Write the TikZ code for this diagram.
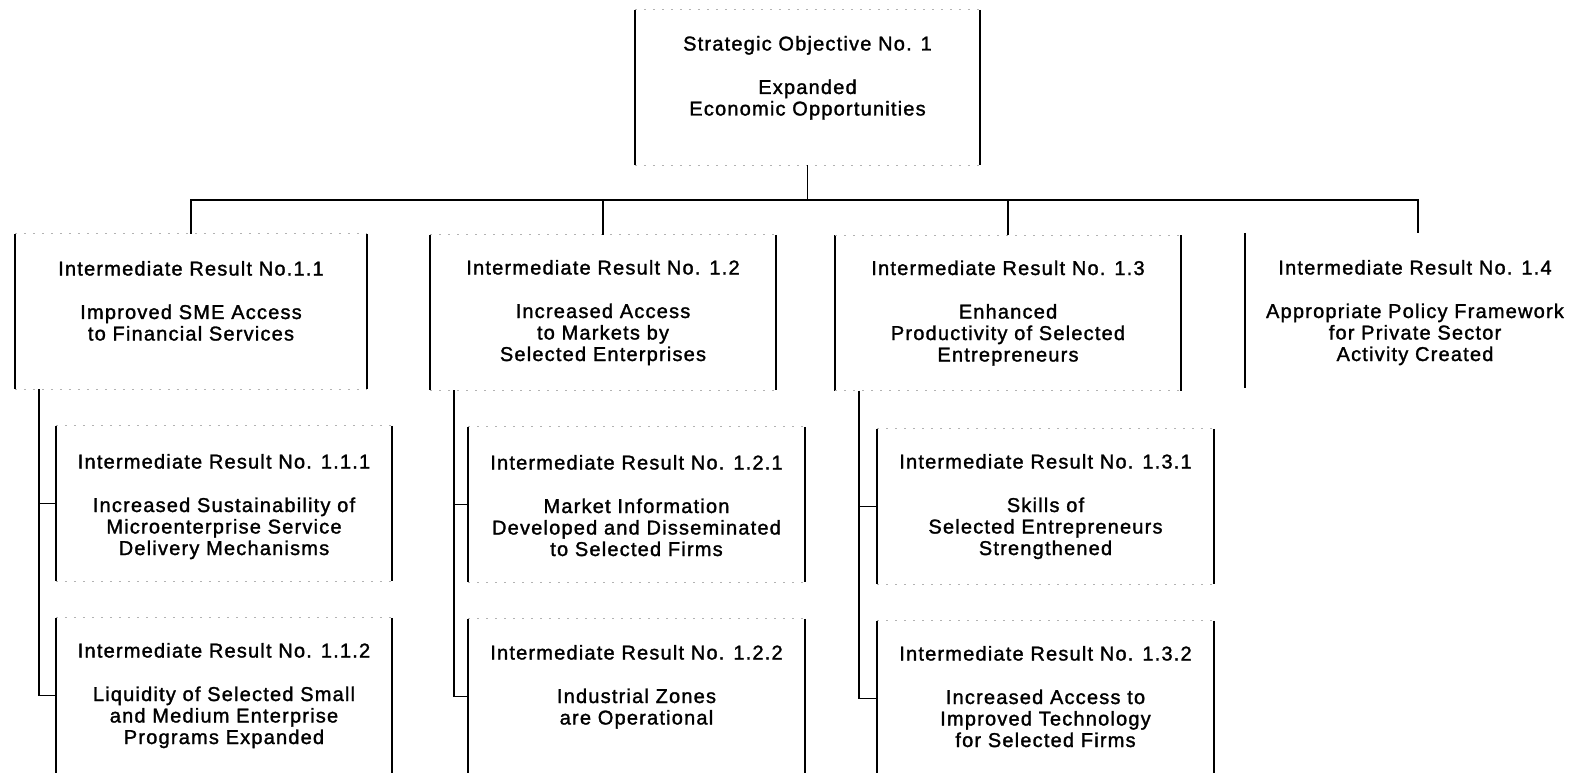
\documentclass[tikz,border=0pt]{standalone}
\usepackage{fontspec}
\setmainfont{Liberation Sans}[LetterSpace=6, FakeBold=1.5]
\usetikzlibrary{positioning}
\tikzset{
 irbox/.style={minimum width=345pt, minimum height=155pt, inner sep=0pt},
 subbox/.style={minimum width=336pt, minimum height=155pt, inner sep=0pt},
 irtext/.style={align=center, inner sep=0pt, font=\fontsize{20}{21.5}\selectfont},
 side/.style={line width=2pt},
 rim/.style={line width=1.2pt, dash pattern=on 2pt off 7pt, black!30},
 link/.style={line width=1.8pt}
}

\begin{document}
\begin{tikzpicture}[x=1pt, y=-1pt]
 \path[use as bounding box, clip] (0,0) rectangle (1579,772);
 \node[irbox] (so) at (807.5, 87.5) {};
 \node[irbox, minimum width=352pt] (ir11) at (191, 311.5) {};
 \node[irbox] (ir12) at (603, 312.5) {};
 \node[irbox] (ir13) at (1008, 313) {};
 \node[irbox] (ir14) at (1418, 310.5) {};
 \node[subbox] (ir111) at (224, 503.5) {};
 \node[subbox] (ir112) at (224, 695.5) {};
 \node[subbox] (ir121) at (636.5, 504.5) {};
 \node[subbox] (ir122) at (636.5, 696.5) {};
 \node[subbox] (ir131) at (1045.5, 506.5) {};
 \node[subbox] (ir132) at (1045.5, 698.5) {};

 \node[irtext, below=26pt of so.north] (sot) {Strategic Objective No. 1\\[22pt]Expanded\\Economic Opportunities};
 \node[irtext, below=27pt of ir11.north] (ir11t) {Intermediate Result No.1.1\\[22pt]Improved SME Access\\to Financial Services};
 \node[irtext, below=25pt of ir12.north] (ir12t) {Intermediate Result No. 1.2\\[22pt]Increased Access\\to Markets by\\Selected Enterprises};
 \node[irtext, below=25pt of ir13.north] (ir13t) {Intermediate Result No. 1.3\\[22pt]Enhanced\\Productivity of Selected\\Entrepreneurs};
 \node[irtext, below=27pt of ir14.north, xshift=-3pt] (ir14t) {Intermediate Result No. 1.4\\[22pt]Appropriate Policy Framework\\for Private Sector\\Activity Created};
 \node[irtext, below=28pt of ir111.north] (ir111t) {Intermediate Result No. 1.1.1\\[22pt]Increased Sustainability of\\Microenterprise Service\\Delivery Mechanisms};
 \node[irtext, below=25pt of ir112.north] (ir112t) {Intermediate Result No. 1.1.2\\[22pt]Liquidity of Selected Small\\and Medium Enterprise\\Programs Expanded};
 \node[irtext, below=28pt of ir121.north] (ir121t) {Intermediate Result No. 1.2.1\\[22pt]Market Information\\Developed and Disseminated\\to Selected Firms};
 \node[irtext, below=26pt of ir122.north] (ir122t) {Intermediate Result No. 1.2.2\\[22pt]Industrial Zones\\are Operational};
 \node[irtext, below=25pt of ir131.north] (ir131t) {Intermediate Result No. 1.3.1\\[22pt]Skills of\\Selected Entrepreneurs\\Strengthened};
 \node[irtext, below=25pt of ir132.north] (ir132t) {Intermediate Result No. 1.3.2\\[22pt]Increased Access to\\Improved Technology\\for Selected Firms};

 \foreach \n in {so,ir11,ir12,ir13,ir14,ir111,ir112,ir121,ir122,ir131,ir132}
  \draw[side] (\n.north west) -- (\n.south west) (\n.north east) -- (\n.south east);
 \foreach \n in {so,ir11,ir12,ir13,ir111,ir112,ir121,ir122,ir131,ir132}
  \draw[rim] (\n.north west) -- (\n.north east) (\n.south west) -- (\n.south east);

 \coordinate (bar) at ([yshift=-35pt]so.south);
 \draw[link] (so.south) -- (bar);
 \foreach \n in {ir11,ir12,ir13,ir14}
  \draw[link] (\n.north) |- (bar);

 \coordinate (sp1) at ([xshift=24pt]ir11.south west);
 \coordinate (sp2) at ([xshift=24pt]ir12.south west);
 \coordinate (sp3) at ([xshift=24pt]ir13.south west);
 \draw[link] (sp1) |- (ir112.west);
 \draw[link] (ir111.west) -- (ir111.west -| sp1);
 \draw[link] (sp2) |- (ir122.west);
 \draw[link] (ir121.west) -- (ir121.west -| sp2);
 \draw[link] (sp3) |- (ir132.west);
 \draw[link] (ir131.west) -- (ir131.west -| sp3);
\end{tikzpicture}
\end{document}
